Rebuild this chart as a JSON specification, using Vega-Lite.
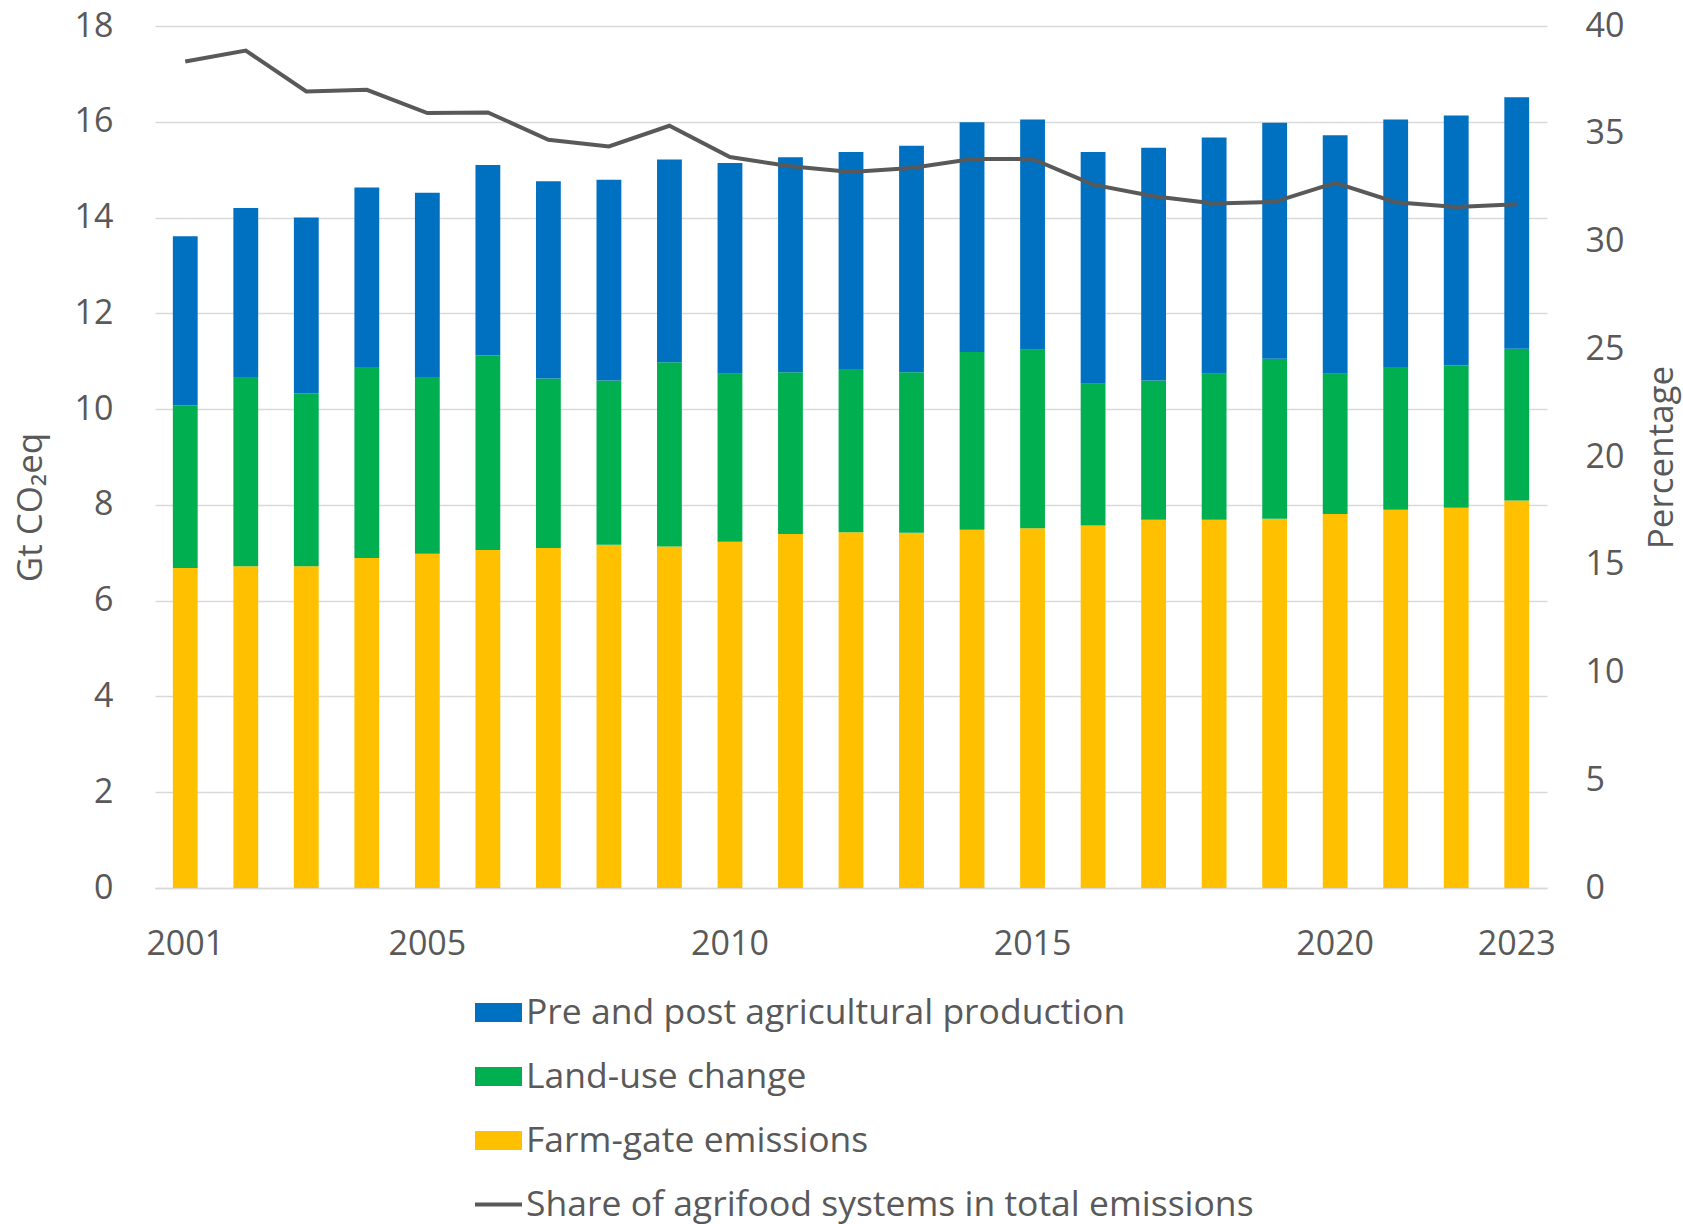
{
  "$schema": "https://vega.github.io/schema/vega-lite/v6.json",
  "autosize": {"type": "none"},
  "width": 1392,
  "height": 862,
  "padding": {"left": 155, "top": 26, "right": 136, "bottom": 336},
  "background": "white",
  "config": {
    "font": "Open Sans",
    "view": {"stroke": null},
    "axis": {"labelColor": "#595959", "titleColor": "#595959", "titleFontWeight": "normal"}
  },
  "datasets": {
    "bars": [
      {"year": 2001, "series": "Farm-gate emissions", "value": 6.68},
      {"year": 2001, "series": "Land-use change", "value": 3.40},
      {"year": 2001, "series": "Pre and post agricultural production", "value": 3.53},
      {"year": 2002, "series": "Farm-gate emissions", "value": 6.72},
      {"year": 2002, "series": "Land-use change", "value": 3.95},
      {"year": 2002, "series": "Pre and post agricultural production", "value": 3.53},
      {"year": 2003, "series": "Farm-gate emissions", "value": 6.72},
      {"year": 2003, "series": "Land-use change", "value": 3.61},
      {"year": 2003, "series": "Pre and post agricultural production", "value": 3.67},
      {"year": 2004, "series": "Farm-gate emissions", "value": 6.89},
      {"year": 2004, "series": "Land-use change", "value": 3.99},
      {"year": 2004, "series": "Pre and post agricultural production", "value": 3.75},
      {"year": 2005, "series": "Farm-gate emissions", "value": 6.98},
      {"year": 2005, "series": "Land-use change", "value": 3.69},
      {"year": 2005, "series": "Pre and post agricultural production", "value": 3.85},
      {"year": 2006, "series": "Farm-gate emissions", "value": 7.06},
      {"year": 2006, "series": "Land-use change", "value": 4.06},
      {"year": 2006, "series": "Pre and post agricultural production", "value": 3.98},
      {"year": 2007, "series": "Farm-gate emissions", "value": 7.10},
      {"year": 2007, "series": "Land-use change", "value": 3.54},
      {"year": 2007, "series": "Pre and post agricultural production", "value": 4.12},
      {"year": 2008, "series": "Farm-gate emissions", "value": 7.17},
      {"year": 2008, "series": "Land-use change", "value": 3.43},
      {"year": 2008, "series": "Pre and post agricultural production", "value": 4.19},
      {"year": 2009, "series": "Farm-gate emissions", "value": 7.13},
      {"year": 2009, "series": "Land-use change", "value": 3.85},
      {"year": 2009, "series": "Pre and post agricultural production", "value": 4.23},
      {"year": 2010, "series": "Farm-gate emissions", "value": 7.23},
      {"year": 2010, "series": "Land-use change", "value": 3.51},
      {"year": 2010, "series": "Pre and post agricultural production", "value": 4.40},
      {"year": 2011, "series": "Farm-gate emissions", "value": 7.39},
      {"year": 2011, "series": "Land-use change", "value": 3.38},
      {"year": 2011, "series": "Pre and post agricultural production", "value": 4.49},
      {"year": 2012, "series": "Farm-gate emissions", "value": 7.43},
      {"year": 2012, "series": "Land-use change", "value": 3.41},
      {"year": 2012, "series": "Pre and post agricultural production", "value": 4.53},
      {"year": 2013, "series": "Farm-gate emissions", "value": 7.42},
      {"year": 2013, "series": "Land-use change", "value": 3.35},
      {"year": 2013, "series": "Pre and post agricultural production", "value": 4.73},
      {"year": 2014, "series": "Farm-gate emissions", "value": 7.48},
      {"year": 2014, "series": "Land-use change", "value": 3.71},
      {"year": 2014, "series": "Pre and post agricultural production", "value": 4.80},
      {"year": 2015, "series": "Farm-gate emissions", "value": 7.51},
      {"year": 2015, "series": "Land-use change", "value": 3.73},
      {"year": 2015, "series": "Pre and post agricultural production", "value": 4.81},
      {"year": 2016, "series": "Farm-gate emissions", "value": 7.57},
      {"year": 2016, "series": "Land-use change", "value": 2.96},
      {"year": 2016, "series": "Pre and post agricultural production", "value": 4.84},
      {"year": 2017, "series": "Farm-gate emissions", "value": 7.69},
      {"year": 2017, "series": "Land-use change", "value": 2.91},
      {"year": 2017, "series": "Pre and post agricultural production", "value": 4.86},
      {"year": 2018, "series": "Farm-gate emissions", "value": 7.69},
      {"year": 2018, "series": "Land-use change", "value": 3.05},
      {"year": 2018, "series": "Pre and post agricultural production", "value": 4.93},
      {"year": 2019, "series": "Farm-gate emissions", "value": 7.71},
      {"year": 2019, "series": "Land-use change", "value": 3.34},
      {"year": 2019, "series": "Pre and post agricultural production", "value": 4.93},
      {"year": 2020, "series": "Farm-gate emissions", "value": 7.81},
      {"year": 2020, "series": "Land-use change", "value": 2.93},
      {"year": 2020, "series": "Pre and post agricultural production", "value": 4.98},
      {"year": 2021, "series": "Farm-gate emissions", "value": 7.90},
      {"year": 2021, "series": "Land-use change", "value": 2.98},
      {"year": 2021, "series": "Pre and post agricultural production", "value": 5.17},
      {"year": 2022, "series": "Farm-gate emissions", "value": 7.94},
      {"year": 2022, "series": "Land-use change", "value": 2.97},
      {"year": 2022, "series": "Pre and post agricultural production", "value": 5.22},
      {"year": 2023, "series": "Farm-gate emissions", "value": 8.09},
      {"year": 2023, "series": "Land-use change", "value": 3.17},
      {"year": 2023, "series": "Pre and post agricultural production", "value": 5.25}
    ],
    "share": [
      {"year": 2001, "share": 38.35},
      {"year": 2002, "share": 38.86},
      {"year": 2003, "share": 36.96},
      {"year": 2004, "share": 37.04},
      {"year": 2005, "share": 35.96},
      {"year": 2006, "share": 35.99},
      {"year": 2007, "share": 34.72},
      {"year": 2008, "share": 34.41},
      {"year": 2009, "share": 35.37},
      {"year": 2010, "share": 33.92},
      {"year": 2011, "share": 33.49},
      {"year": 2012, "share": 33.22},
      {"year": 2013, "share": 33.41},
      {"year": 2014, "share": 33.83},
      {"year": 2015, "share": 33.83},
      {"year": 2016, "share": 32.64},
      {"year": 2017, "share": 32.10},
      {"year": 2018, "share": 31.76},
      {"year": 2019, "share": 31.84},
      {"year": 2020, "share": 32.72},
      {"year": 2021, "share": 31.82},
      {"year": 2022, "share": 31.60},
      {"year": 2023, "share": 31.73}
    ]
  },
  "layer": [
    {
      "data": {"name": "bars"},
      "mark": {"type": "bar"},
      "encoding": {
        "x": {
          "field": "year",
          "type": "ordinal",
          "scale": {"paddingInner": 0.59, "paddingOuter": 0.295},
          "axis": {
            "title": null,
            "labelAngle": 0,
            "labelFontSize": 34,
            "labelPadding": 39,
            "labelExpr": "indexof(['2001','2005','2010','2015','2020','2023'], datum.label) >= 0 ? datum.label : ''",
            "ticks": false,
            "tickSize": 0,
            "domain": true,
            "domainColor": "#d9d9d9",
            "domainWidth": 1.5,
            "grid": false
          }
        },
        "y": {
          "field": "value",
          "type": "quantitative",
          "stack": "zero",
          "scale": {"domain": [0, 18], "nice": false},
          "axis": {
            "title": "Gt CO₂eq",
            "titleFontSize": 35,
            "titlePadding": 26,
            "titleY": 481,
            "values": [0, 2, 4, 6, 8, 10, 12, 14, 16, 18],
            "labelFontSize": 34,
            "labelPadding": 42,
            "ticks": false,
            "domain": false,
            "grid": true,
            "gridColor": "#d9d9d9",
            "gridWidth": 1.5
          }
        },
        "color": {
          "field": "series",
          "type": "nominal",
          "scale": {
            "domain": ["Pre and post agricultural production", "Land-use change", "Farm-gate emissions", "Share of agrifood systems in total emissions"],
            "range": ["#0070C0", "#00B050", "#FFC000", "#595959"]
          },
          "legend": {
            "title": null,
            "orient": "none",
            "legendX": 320,
            "legendY": 963,
            "direction": "vertical",
            "labelFontSize": 35.5,
            "labelColor": "#595959",
            "labelLimit": 1000,
            "symbolSize": 2209,
            "symbolStrokeWidth": 0,
            "rowPadding": 22,
            "labelOffset": 4,
            "encode": {
              "symbols": {
                "update": {
                  "shape": {"signal": "datum.value === 'Share of agrifood systems in total emissions' ? 'M-1,-0.08H1V0.08H-1Z' : 'M-1,-0.4H1V0.4H-1Z'"}
                }
              }
            }
          }
        },
        "order": {"field": "series", "sort": "ascending"}
      }
    },
    {
      "data": {"name": "share"},
      "mark": {"type": "line", "color": "#595959", "strokeWidth": 4},
      "encoding": {
        "x": {"field": "year", "type": "ordinal"},
        "y": {
          "field": "share",
          "type": "quantitative",
          "scale": {"domain": [0, 40], "nice": false},
          "axis": {
            "orient": "right",
            "title": "Percentage",
            "titleFontSize": 35,
            "titleAngle": 270,
            "titlePadding": 56,
            "values": [0, 5, 10, 15, 20, 25, 30, 35, 40],
            "labelFontSize": 34,
            "labelPadding": 38,
            "ticks": false,
            "domain": false,
            "grid": false
          }
        }
      }
    }
  ],
  "resolve": {"scale": {"y": "independent"}}
}
